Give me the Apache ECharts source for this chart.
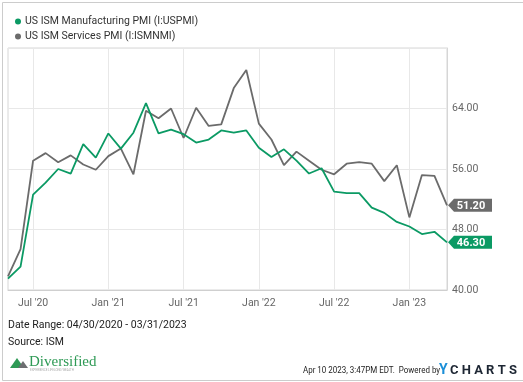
<!DOCTYPE html>
<html>
<head>
<meta charset="utf-8">
<script src="https://cdn.jsdelivr.net/npm/echarts@6/dist/echarts.min.js"></script>
<style>
html,body{margin:0;padding:0;background:#fff;}
#chart{width:523px;height:382px;}
</style>
</head>
<body>
<div id="chart"></div>
<script>
// Month-end observation dates (04/30/2020 - 03/31/2023)
const months = [
  '2020-04','2020-05','2020-06','2020-07','2020-08','2020-09','2020-10','2020-11','2020-12',
  '2021-01','2021-02','2021-03','2021-04','2021-05','2021-06','2021-07','2021-08','2021-09','2021-10','2021-11','2021-12',
  '2022-01','2022-02','2022-03','2022-04','2022-05','2022-06','2022-07','2022-08','2022-09','2022-10','2022-11','2022-12',
  '2023-01','2023-02','2023-03'
];
const manufacturing = [
  41.5,43.1,52.6,54.2,56.0,55.4,59.3,57.5,60.7,
  58.7,60.8,64.7,60.7,61.2,60.6,59.5,59.9,61.1,60.8,61.1,58.8,
  57.6,58.6,57.1,55.4,56.1,53.0,52.8,52.8,50.9,50.2,49.0,48.4,
  47.4,47.7,46.3
];
const services = [
  41.8,45.4,57.1,58.1,56.9,57.8,56.6,55.9,57.7,
  58.7,55.3,63.7,62.7,64.0,60.1,64.1,61.7,61.9,66.7,69.1,62.0,
  59.9,56.5,58.3,57.1,55.9,55.3,56.7,56.9,56.7,54.4,56.5,49.6,
  55.2,55.1,51.2
];
const seriesNames = ['US ISM Manufacturing PMI (I:USPMI)', 'US ISM Services PMI (I:ISMNMI)'];
// x tick gridlines sit at the month boundary right after these months
const tickMonths = ['2020-06','2020-12','2021-06','2021-12','2022-06','2022-12'];
const tickLabels = ["Jul '20","Jan '21","Jul '21","Jan '22","Jul '22","Jan '23"];
const yTicks = [40, 48, 56, 64, 72];

const GREEN = '#0b9a64';
const GRAY = '#6b6b6b';
const FONT = 'Roboto';

const chart = echarts.init(document.getElementById('chart'), null, {renderer: 'canvas'});

function isTick(i) { return tickMonths.indexOf(months[i]) >= 0; }
const arrowPath = 'path://M0,6.5 L6,0 L44,0 L44,13 L6,13 Z';

function endMark(arr, color) {
  const last = arr.length - 1;
  return {
    silent: true,
    symbol: arrowPath,
    symbolSize: [44, 13],
    symbolKeepAspect: false,
    symbolOffset: [23, 0],
    itemStyle: {color: color},
    label: {
      show: true, position: 'inside', offset: [1, 0.5],
      color: '#fff', fontFamily: FONT, fontWeight: 'bold', fontSize: 11,
      formatter: p => Number(p.value).toFixed(2)
    },
    data: [{coord: [months[last], arr[last]], value: arr[last]}]
  };
}

chart.setOption({
  animation: false,
  backgroundColor: '#fff',
  textStyle: {fontFamily: FONT},
  legend: {
    orient: 'vertical', left: 10, top: 11, itemGap: 4,
    icon: 'circle', itemWidth: 6, itemHeight: 6,
    textStyle: {fontFamily: FONT, fontSize: 10.5, color: '#333', padding: [0,0,0,-1]},
    data: [seriesNames[0], seriesNames[1]]
  },
  grid: {
    left: 8, right: 76, top: 48, bottom: 92,
    show: true, borderColor: '#d6d6d6', borderWidth: 1, containLabel: false
  },
  xAxis: {
    type: 'category', boundaryGap: false, data: months,
    axisLine: {show: true, lineStyle: {color: '#cfcfcf'}},
    axisTick: {show: false},
    axisLabel: {
      interval: (i) => isTick(i),
      formatter: (v) => tickLabels[tickMonths.indexOf(v)],
      color: '#666', fontSize: 10.5, fontFamily: FONT, margin: 8
    },
    splitLine: {show: true, interval: (i) => isTick(i), lineStyle: {color: '#e8e8e8'}}
  },
  yAxis: {
    type: 'value', position: 'right', min: yTicks[0], max: yTicks[yTicks.length-1], interval: 8,
    axisLine: {show: true, lineStyle: {color: '#d6d6d6'}},
    axisTick: {show: false},
    axisLabel: {
      color: '#666', fontSize: 10.5, fontFamily: FONT, margin: 5,
      formatter: v => (v === yTicks[yTicks.length-1]) ? '' : v.toFixed(2)
    },
    splitLine: {show: true, lineStyle: {color: '#e8e8e8'}}
  },
  series: [
    {
      name: seriesNames[1], type: 'line', data: services, showSymbol: false, symbol: 'none',
      lineStyle: {color: GRAY, width: 1.8}, itemStyle: {color: GRAY}, z: 2,
      markPoint: endMark(services, GRAY)
    },
    {
      name: seriesNames[0], type: 'line', data: manufacturing, showSymbol: false, symbol: 'none',
      lineStyle: {color: GREEN, width: 1.8}, itemStyle: {color: GREEN}, z: 3,
      markPoint: endMark(manufacturing, GREEN)
    }
  ],
  graphic: [
    {type: 'rect', left: 0, top: 0, shape: {x: 0.5, y: 0.5, width: 521, height: 378},
     style: {fill: 'none', stroke: '#cccccc', lineWidth: 1}, silent: true, z: 10},
    {type: 'text', left: 8, top: 320, style: {text: 'Date Range: 04/30/2020 - 03/31/2023', fill: '#222', font: '10.5px Roboto'}},
    {type: 'text', left: 8, top: 337, style: {text: 'Source: ISM', fill: '#222', font: '10.5px Roboto'}},
    // logo
    {type: 'polygon', shape: {points: [[10,368],[17,358],[24,368]]}, style: {fill: '#2e9a55'}},
    {type: 'polygon', shape: {points: [[18,368],[23,361],[28,368]]}, style: {fill: '#6d6e71'}},
    {type: 'text', left: 29, top: 355, style: {text: 'Diversified', fill: '#2e9a55', font: '15px "Liberation Serif"'}},
    {type: 'text', left: 30, top: 369, style: {text: 'EXPERIENCE LIFELONG WEALTH', fill: '#aaa', font: '3px Roboto'}},
    // ycharts stamp
    {type: 'text', x: 303, y: 366, scaleX: 0.84, style: {text: 'Apr 10 2023, 3:47PM EDT.  Powered by', fill: '#222', font: '9.5px Roboto'}},
    {type: 'text', x: 439, y: 363, style: {text: 'Y', fill: '#1b8fd8', font: 'bold 14px Roboto'}},
    {type: 'text', x: 450, y: 364, style: {text: 'C H A R T S', fill: '#1d2633', font: 'bold 13px Roboto'}}
  ]
});
</script>
</body>
</html>
